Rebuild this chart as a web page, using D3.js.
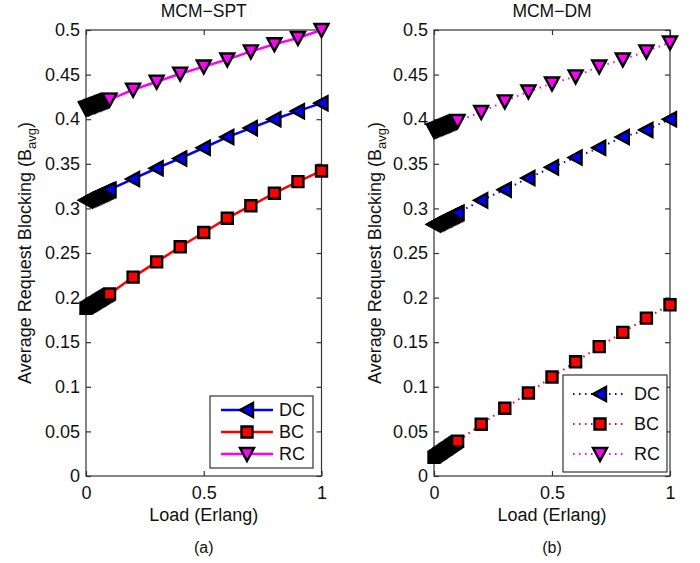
<!DOCTYPE html>
<html><head><meta charset="utf-8">
<script src="https://cdn.jsdelivr.net/npm/d3@7"></script>
<style>body{margin:0;background:#fff;}svg{display:block;font-family:"Liberation Sans",Arial,sans-serif;}</style>
</head><body>
<svg id="chart" width="700" height="563"></svg>
<script>
// ---------- data ----------
const loads = [0,0.005,0.01,0.015,0.02,0.025,0.03,0.035,0.04,0.045,0.05,0.055,0.06,0.065,0.07,0.075,0.08,0.085,0.09,0.095,0.1,
               0.2,0.3,0.4,0.5,0.6,0.7,0.8,0.9,1.0];
const seriesNames = ["DC","BC","RC"];
// (a) MCM-SPT
const sptDC = [0.3090,0.3096,0.3102,0.3108,0.3114,0.3120,0.3126,0.3132,0.3138,0.3144,0.3150,0.3156,0.3162,0.3168,0.3174,0.3180,0.3186,0.3192,0.3198,0.3204,0.3210,
               0.333,0.345,0.356,0.368,0.380,0.390,0.400,0.409,0.418];
const sptBC = [0.1880,0.1888,0.1896,0.1904,0.1912,0.1920,0.1928,0.1936,0.1944,0.1952,0.1960,0.1968,0.1976,0.1984,0.1992,0.2000,0.2008,0.2016,0.2024,0.2032,0.2040,
               0.223,0.240,0.257,0.273,0.289,0.303,0.317,0.330,0.342];
const sptRC = [0.4120,0.4125,0.4130,0.4135,0.4140,0.4145,0.4150,0.4155,0.4160,0.4165,0.4170,0.4175,0.4180,0.4185,0.4190,0.4195,0.4200,0.4205,0.4210,0.4215,0.4220,
               0.433,0.442,0.451,0.459,0.467,0.476,0.484,0.491,0.500];
// (b) MCM-DM
const dmDC = [0.2820,0.2827,0.2833,0.2840,0.2846,0.2853,0.2859,0.2866,0.2872,0.2879,0.2885,0.2892,0.2898,0.2905,0.2911,0.2918,0.2924,0.2931,0.2937,0.2944,0.2950,
              0.309,0.321,0.334,0.346,0.357,0.368,0.380,0.388,0.400];
const dmBC = [0.0210,0.0219,0.0228,0.0237,0.0246,0.0255,0.0264,0.0273,0.0282,0.0291,0.0300,0.0309,0.0318,0.0327,0.0336,0.0345,0.0354,0.0363,0.0372,0.0381,0.0390,
              0.058,0.076,0.093,0.111,0.128,0.145,0.161,0.177,0.192];
const dmRC = [0.3870,0.3876,0.3881,0.3887,0.3892,0.3898,0.3903,0.3909,0.3914,0.3920,0.3925,0.3931,0.3936,0.3942,0.3947,0.3953,0.3958,0.3964,0.3969,0.3975,0.3980,
              0.408,0.420,0.431,0.440,0.448,0.459,0.467,0.476,0.486];
const titles = ["MCM\u2212SPT","MCM\u2212DM"];
const panelLabels = ["(a)","(b)"];
const xTicks = [0,0.5,1];
const xTickLabels = ["0","0.5","1"];
const yTicks = [0,0.05,0.1,0.15,0.2,0.25,0.3,0.35,0.4,0.45,0.5];
const yTickLabels = ["0","0.05","0.1","0.15","0.2","0.25","0.3","0.35","0.4","0.45","0.5"];

// ---------- drawing ----------
const svg = d3.select("#chart");
const colors = {DC:"#0000ff", BC:"#ff0000", RC:"#ff00ff"};
const markerPath = {
  DC: "M-7,0L6,-7L6,7Z",
  BC: "M-5.5,-5.5L5.5,-5.5L5.5,5.5L-5.5,5.5Z",
  RC: "M-7,-6L7,-6L0,7Z"
};
const FS = 18;

const panels = [
  {x0:86, x1:321.5, data:{DC:sptDC,BC:sptBC,RC:sptRC}, dotted:false, ylabX:31,
   legend:{x:210,y:396,w:103,h:72,rows:[410,432,454],lx0:221,lx1:273,mx:247,tx:279}},
  {x0:434, x1:670, data:{DC:dmDC,BC:dmBC,RC:dmRC}, dotted:true, ylabX:381,
   legend:{x:563,y:375,w:104,h:97,rows:[394,424,454],lx0:573,lx1:626,mx:600,tx:634}}
];
const yTop = 30, yBot = 476;

panels.forEach((p, i) => {
  const x = d3.scaleLinear().domain([0,1]).range([p.x0, p.x1]);
  const y = d3.scaleLinear().domain([0,0.5]).range([yBot, yTop]);
  const g = svg.append("g");

  // frame
  g.append("rect").attr("x",p.x0).attr("y",yTop).attr("width",p.x1-p.x0).attr("height",yBot-yTop)
    .attr("fill","#fff").attr("stroke","#333").attr("stroke-width",1.2);

  // axes (ticks inside)
  const fmtY = d => yTickLabels[yTicks.indexOf(d)];
  const fmtX = d => xTickLabels[xTicks.indexOf(d)];
  const axL = g.append("g").attr("transform",`translate(${p.x0},0)`)
    .call(d3.axisLeft(y).tickValues(yTicks).tickFormat(fmtY).tickSize(-5).tickPadding(6));
  const axR = g.append("g").attr("transform",`translate(${p.x1},0)`)
    .call(d3.axisRight(y).tickValues(yTicks).tickFormat("").tickSize(-5));
  const axB = g.append("g").attr("transform",`translate(0,${yBot})`)
    .call(d3.axisBottom(x).tickValues(xTicks).tickFormat(fmtX).tickSize(-5).tickPadding(10));
  const axT = g.append("g").attr("transform",`translate(0,${yTop})`)
    .call(d3.axisTop(x).tickValues(xTicks).tickFormat("").tickSize(-5));
  [axL,axR,axB,axT].forEach(a => {
    a.select(".domain").remove();
    a.selectAll("line").attr("stroke","#333").attr("stroke-width",1.2);
    a.selectAll("text").attr("font-size",FS).attr("fill","#111").attr("font-family","Liberation Sans, Arial, sans-serif");
  });
  axB.selectAll("text").attr("dy","0.71em");

  // series
  seriesNames.forEach(name => {
    const vals = p.data[name];
    const pts = loads.map((l,k) => [l, vals[k]]);
    const line = d3.line().x(d => x(d[0])).y(d => y(d[1]));
    const path = g.append("path").attr("d", line(pts)).attr("fill","none")
      .attr("stroke", colors[name]).attr("stroke-width", p.dotted ? 2 : 2.5);
    if (p.dotted) path.attr("stroke-dasharray","1.5,4.5");
    g.selectAll(null).data(pts).enter().append("path")
      .attr("d", markerPath[name])
      .attr("transform", d => `translate(${x(d[0])},${y(d[1])})`)
      .attr("fill", colors[name]).attr("stroke","#000").attr("stroke-width",2.4)
      .attr("stroke-linejoin","miter");
  });

  // title
  svg.append("text").attr("x",(p.x0+p.x1)/2).attr("y",17).attr("text-anchor","middle")
    .attr("font-size",17.5).attr("fill","#111").text(titles[i]);
  // x label
  svg.append("text").attr("x",(p.x0+p.x1)/2).attr("y",521).attr("text-anchor","middle")
    .attr("font-size",FS).attr("fill","#111").text("Load (Erlang)");
  // panel label
  svg.append("text").attr("x",(p.x0+p.x1)/2).attr("y",553).attr("text-anchor","middle")
    .attr("font-size",16).attr("fill","#111").text(panelLabels[i]);
  // y label
  const yl = svg.append("text")
    .attr("transform",`translate(${p.ylabX},${(yTop+yBot)/2}) rotate(-90)`)
    .attr("text-anchor","middle").attr("font-size",FS).attr("fill","#111");
  yl.append("tspan").text("Average Request Blocking (B");
  yl.append("tspan").attr("font-size",13).attr("dy",5).text("avg");
  yl.append("tspan").attr("dy",-5).text(")");

  // legend
  const L = p.legend;
  svg.append("rect").attr("x",L.x).attr("y",L.y).attr("width",L.w).attr("height",L.h)
    .attr("fill","#fff").attr("stroke","#333").attr("stroke-width",1.2);
  seriesNames.forEach((name,k) => {
    const ry = L.rows[k];
    const ln = svg.append("line").attr("x1",L.lx0).attr("x2",L.lx1).attr("y1",ry).attr("y2",ry)
      .attr("stroke",colors[name]).attr("stroke-width",p.dotted?2:2.5);
    if (p.dotted) ln.attr("stroke-dasharray","1.5,4.5");
    svg.append("path").attr("d",markerPath[name]).attr("transform",`translate(${L.mx},${ry})`)
      .attr("fill",colors[name]).attr("stroke","#000").attr("stroke-width",2.4);
    svg.append("text").attr("x",L.tx).attr("y",ry).attr("dy","0.36em").attr("font-size",FS)
      .attr("fill","#111").text(name);
  });
});
</script>
</body></html>
